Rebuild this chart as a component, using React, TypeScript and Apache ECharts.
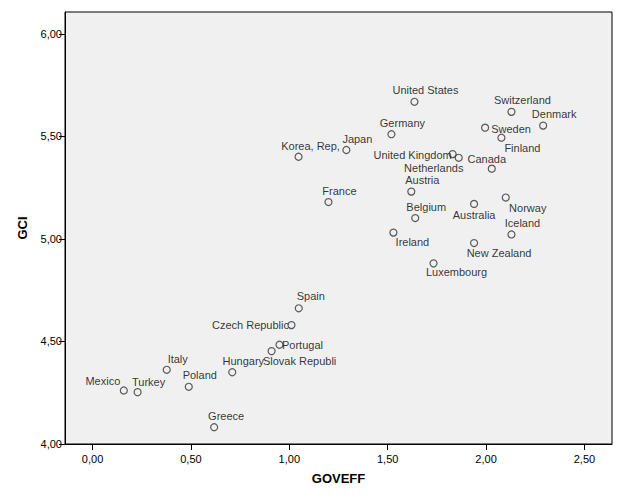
import React, { useEffect, useRef } from "react";
import * as echarts from "echarts";

const countries = [
  "United States", "Switzerland", "Denmark", "Sweden", "Finland", "Germany", "Japan",
  "Korea, Rep,", "United Kingdom", "Netherlands", "Canada", "Austria", "France", "Belgium",
  "Australia", "Norway", "Iceland", "Ireland", "New Zealand", "Luxembourg", "Spain",
  "Czech Republic", "Portugal", "Slovak Republi", "Hungary", "Italy", "Poland", "Greece",
  "Mexico", "Turkey",
];
const goveff = [
  1.636, 2.129, 2.290, 1.995, 2.078, 1.519, 1.290,
  1.047, 1.830, 1.861, 2.029, 1.620, 1.199, 1.640,
  1.939, 2.100, 2.129, 1.529, 1.939, 1.733, 1.048,
  1.011, 0.950, 0.910, 0.710, 0.377, 0.489, 0.618,
  0.159, 0.229,
];
const gci = [
  5.669, 5.620, 5.553, 5.543, 5.494, 5.511, 5.434,
  5.401, 5.414, 5.396, 5.343, 5.231, 5.180, 5.102,
  5.171, 5.202, 5.022, 5.031, 4.980, 4.881, 4.662,
  4.580, 4.484, 4.453, 4.350, 4.362, 4.279, 4.082,
  4.261, 4.253,
];
const labelOffsets: [number, number][] = [
  [11, -12], [11, -12], [11, -12], [26, 1], [21, 10], [11, -11], [11, -11],
  [12, -11], [-40, 1], [-25, 10], [-5, -10], [11, -12], [11, -11], [11, -11],
  [0, 11], [22, 10], [11, -11], [19, 9], [25, 10], [23, 9], [12, -12],
  [-41, 0], [23, 0], [28, 10], [11, -11], [11, -11], [11, -12], [12, -11],
  [-21, -9], [11, -10],
];
const xTicks = [0, 0.5, 1, 1.5, 2, 2.5];
const yTicks = [4, 4.5, 5, 5.5, 6];

const FONT = 'Arial, "Liberation Sans", sans-serif';
const fmt = (v: number) => v.toFixed(2).replace(".", ",");

export default function App() {
  const ref = useRef<HTMLDivElement>(null);
  useEffect(() => {
    if (!ref.current) return;
    const chart = echarts.init(ref.current, null, { renderer: "svg" });
    const data = countries.map((name, i) => ({
      name,
      value: [goveff[i], gci[i]],
      label: { offset: labelOffsets[i] },
    }));
    chart.setOption({
      animation: false,
      backgroundColor: "#ffffff",
      grid: {
        left: 65,
        top: 12,
        right: 13,
        bottom: 56,
        show: true,
        backgroundColor: "#f0f0f0",
        borderColor: "#000000",
        borderWidth: 1,
      },
      xAxis: {
        type: "value",
        min: -0.14,
        max: 2.64,
        name: "GOVEFF",
        nameLocation: "middle",
        nameGap: 28,
        nameTextStyle: { fontFamily: FONT, fontSize: 13, fontWeight: "bold", color: "#000" },
        axisLine: { show: true, onZero: false, lineStyle: { color: "#000", width: 1 } },
        axisTick: { show: true, length: 6, customValues: xTicks, lineStyle: { color: "#000" } },
        axisLabel: {
          customValues: xTicks,
          formatter: (v: number) => fmt(v),
          fontFamily: FONT,
          fontSize: 11,
          color: "#000",
          margin: 9,
        },
        splitLine: { show: false },
      },
      yAxis: {
        type: "value",
        min: 4,
        max: 6.107,
        name: "GCI",
        nameLocation: "middle",
        nameGap: 36,
        nameRotate: 90,
        nameTextStyle: { fontFamily: FONT, fontSize: 13, fontWeight: "bold", color: "#000" },
        axisLine: { show: true, onZero: false, lineStyle: { color: "#000", width: 1 } },
        axisTick: { show: true, length: 6, customValues: yTicks, lineStyle: { color: "#000" } },
        axisLabel: {
          customValues: yTicks,
          formatter: (v: number) => fmt(v),
          fontFamily: FONT,
          fontSize: 11,
          color: "#000",
          margin: 3,
        },
        splitLine: { show: false },
      },
      series: [
        {
          type: "scatter",
          data,
          symbol: "circle",
          symbolSize: 7,
          itemStyle: { color: "transparent", borderColor: "#333333", borderWidth: 1.2 },
          label: {
            show: true,
            position: "inside",
            formatter: (p: any) => p.name,
            fontFamily: FONT,
            fontSize: 11,
            color: "#000",
          },
          emphasis: { disabled: true },
        },
      ],
    });
    return () => chart.dispose();
  }, []);
  return (
    <div
      ref={ref}
      style={{ position: "absolute", left: 0, top: 0, width: 625, height: 500 }}
    />
  );
}
